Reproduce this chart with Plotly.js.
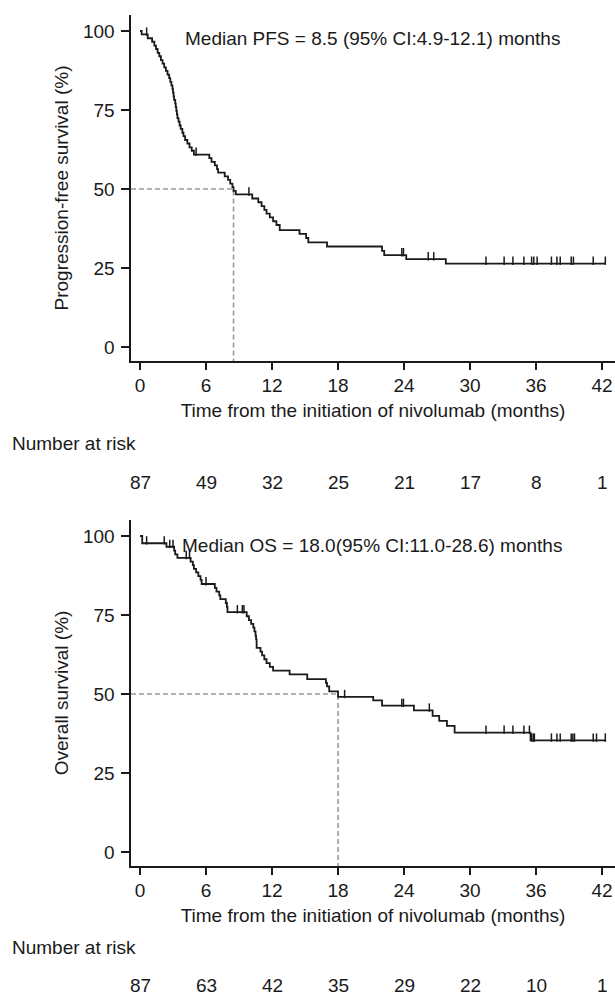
<!DOCTYPE html>
<html><head><meta charset="utf-8">
<script src="https://cdn.plot.ly/plotly-3.0.1.min.js"></script>
<style>html,body{margin:0;padding:0;background:#fff}</style>
</head><body><div id="chart" style="width:615px;height:1002px"></div>
<script>
// ---- data ----
const xTicks = [0, 6, 12, 18, 24, 30, 36, 42];
const yTicks = [0, 25, 50, 75, 100];
const pfsAtRisk = [87, 49, 32, 25, 21, 17, 8, 1];
const osAtRisk = [87, 63, 42, 35, 29, 22, 10, 1];
const pfsMedian = 8.5;
const osMedian = 18.0;
const pfsLabel = "Median PFS = 8.5 (95% CI:4.9-12.1) months";
const osLabel = "Median OS = 18.0(95% CI:11.0-28.6) months";

const pfsTime = [0, 0.15, 0.7, 1.1, 1.3, 1.45, 1.6, 1.75, 1.9, 2.05, 2.2, 2.35, 2.5, 2.65, 2.75, 2.85, 2.95, 3.0, 3.05, 3.1, 3.2, 3.25, 3.3, 3.35, 3.4, 3.5, 3.6, 3.7, 3.85, 3.95, 4.1, 4.3, 4.5, 4.7, 4.9,
  6.3, 6.5, 6.8, 7.0, 7.1, 7.7, 8.0, 8.2, 8.4, 8.5, 8.7, 10.2, 10.75, 11.05, 11.3, 11.5, 11.8, 12.1, 12.4, 12.7,
  14.5, 15.1, 15.3, 17.0, 22.0, 22.2, 24.2, 27.8, 42.3];
const pfsSurv = [100, 98.9, 97.7, 96.6, 95.4, 94.3, 93.1, 92.0, 90.8, 89.7, 88.5, 87.4, 86.2, 85.1, 83.9, 82.8, 81.6, 80.5, 79.3, 78.2, 77.0, 75.9, 74.7, 73.6, 72.4, 71.3, 70.1, 69.0, 67.8, 66.7, 65.5, 64.4, 63.2, 62.1, 60.9,
  59.8, 58.6, 57.5, 56.3, 55.2, 54.0, 52.9, 51.7, 50.6, 49.4, 48.3, 47.0, 45.8, 44.6, 43.4, 42.2, 41.0, 39.8, 38.6, 37.0,
  35.8, 34.5, 33.1, 31.8, 30.4, 29.1, 27.8, 26.4, 26.4];
const pfsCensor = [0.6, 5.1, 9.9, 23.8, 23.95, 26.2, 26.7, 31.45, 33.1, 33.9, 34.9, 35.6, 35.8, 36.1, 37.4, 37.9, 38.2, 39.2, 39.4, 41.2, 42.3];

const osTime = [0, 0.2, 2.4, 3.1, 3.2, 3.4, 4.6, 4.8, 4.9, 5.1, 5.3, 5.5, 5.6, 6.8, 6.95, 7.2, 7.3, 7.8, 7.9, 7.95,
  9.7, 9.9, 10.1, 10.3, 10.4, 10.5, 10.55, 10.6, 10.95, 11.1, 11.3, 11.5, 11.8, 12.1, 13.6, 15.2, 16.9, 17.0, 17.2, 18.0,
  21.2, 22.0, 24.9, 26.6, 27.2, 27.9, 28.6, 35.5, 42.3];
const osSurv = [100, 97.7, 96.6, 95.4, 94.2, 93.1, 91.9, 90.8, 89.6, 88.5, 87.3, 86.1, 84.8, 83.6, 82.4, 81.2, 80.0, 78.8, 77.6, 75.9,
  74.6, 73.4, 72.2, 71.0, 69.8, 68.5, 67.3, 64.6, 63.4, 62.2, 61.0, 59.8, 58.6, 57.4, 56.2, 54.7, 53.5, 52.4, 50.8, 49.1,
  48.0, 46.3, 44.8, 43.1, 41.5, 39.9, 37.8, 35.3, 35.3];
const osCensor = [0.6, 2.2, 2.7, 3.0, 4.2, 4.5, 6.0, 8.85, 9.3, 9.45, 18.6, 23.8, 23.95, 26.3, 31.45, 33.1, 33.9, 34.9, 35.4,
  35.6, 35.75, 35.85, 37.4, 37.9, 38.2, 39.2, 39.35, 39.5, 41.2, 41.5, 42.3];

// ---- helpers ----
function stepAt(times, surv, t) {
  let v = surv[0];
  for (let i = 0; i < times.length; i++) { if (times[i] <= t) v = surv[i]; }
  return v;
}
const tickOffset = 0.9;
const ink = '#1a1a1a';
const FONT = "'Liberation Sans', Arial, sans-serif";
const fs = 19;

const xRange = [-0.82, 43.18];
const yRange = [-4.43, 105.06];

function curveTraces(times, surv, censor, xa, ya) {
  return [
    {x: times, y: surv, xaxis: xa, yaxis: ya, type: 'scatter', mode: 'lines',
     line: {shape: 'hv', color: ink, width: 1.8}, hoverinfo: 'skip', showlegend: false},
    {x: censor, y: censor.map(t => stepAt(times, surv, t) + tickOffset), xaxis: xa, yaxis: ya,
     type: 'scatter', mode: 'markers', showlegend: false, hoverinfo: 'skip',
     marker: {symbol: 'line-ns', size: 6, color: ink, line: {color: ink, width: 1.5}}}
  ];
}
function medianTraces(m, xa, ya) {
  return [{x: [xRange[0], m, m], y: [50, 50, yRange[0]], xaxis: xa, yaxis: ya, type: 'scatter', mode: 'lines',
    line: {color: '#9a9a9a', width: 1.6, dash: '5px,3px'}, hoverinfo: 'skip', showlegend: false}];
}

const data = [
  ...medianTraces(pfsMedian, 'x', 'y'),
  ...curveTraces(pfsTime, pfsSurv, pfsCensor, 'x', 'y'),
  ...medianTraces(osMedian, 'x2', 'y2'),
  ...curveTraces(osTime, osSurv, osCensor, 'x2', 'y2')
];

function xAxis(anchor) {
  return {domain: [131/615, 1], range: xRange, anchor: anchor, tickvals: xTicks, ticktext: xTicks.map(String),
    showline: true, linecolor: ink, linewidth: 1.6, ticks: 'outside', ticklen: 7, tickwidth: 1.5, tickcolor: ink,
    showgrid: false, zeroline: false, tickfont: {family: FONT, size: fs, color: ink},
    title: {text: 'Time from the initiation of nivolumab (months)', font: {family: FONT, size: fs, color: ink}, standoff: 8}};
}
function yAxis(anchor, dom, title) {
  return {domain: dom, range: yRange, anchor: anchor, tickvals: yTicks, ticktext: yTicks.map(String),
    showline: true, linecolor: ink, linewidth: 1.6, ticks: 'outside', ticklen: 8, tickwidth: 1.5, tickcolor: ink,
    ticklabelstandoff: 3,
    showgrid: false, zeroline: false, tickfont: {family: FONT, size: fs, color: ink},
    title: {text: title, font: {family: FONT, size: fs, color: ink}, standoff: 9}};
}

function note(text, xref, x, ypx, xanchor) {
  return {text: text, xref: xref, yref: 'paper', x: x, y: 1 - ypx/1002, xanchor: xanchor || 'center', yanchor: 'middle',
    showarrow: false, font: {family: FONT, size: fs, color: ink}};
}
const annotations = [
  note(pfsLabel, 'paper', 373/615, 38),
  note(osLabel, 'paper', 372/615, 545),
  note('Number at risk', 'paper', 10/615, 443, 'left'),
  note('Number at risk', 'paper', 10/615, 947, 'left')
];
xTicks.forEach((t, i) => {
  annotations.push(note(String(pfsAtRisk[i]), 'x', t, 482));
  annotations.push(note(String(osAtRisk[i]), 'x2', t, 985));
});

const layout = {
  width: 615, height: 1002, margin: {l: 0, r: 0, t: 0, b: 0},
  paper_bgcolor: '#ffffff', plot_bgcolor: '#ffffff', showlegend: false,
  xaxis: xAxis('y'), yaxis: yAxis('x', [1 - 361/1002, 1 - 15/1002], 'Progression-free survival (%)'),
  xaxis2: xAxis('y2'), yaxis2: yAxis('x2', [1 - 866/1002, 1 - 520/1002], 'Overall survival (%)'),
  annotations: annotations
};
Plotly.newPlot('chart', data, layout, {displayModeBar: false, staticPlot: true});
</script></body></html>
